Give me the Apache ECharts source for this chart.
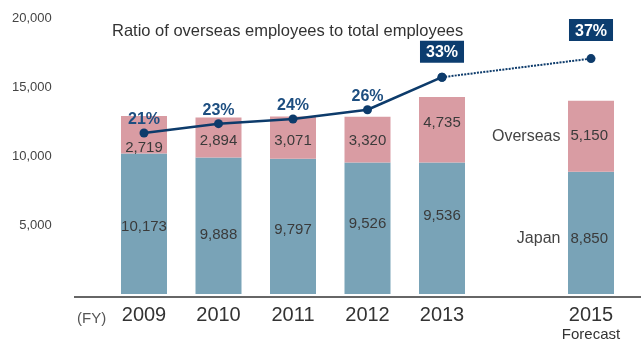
<!DOCTYPE html>
<html>
<head>
<meta charset="utf-8">
<script src="https://cdn.jsdelivr.net/npm/echarts@6/dist/echarts.min.js"></script>
<style>
  html, body { margin: 0; padding: 0; background: #fff; }
  #chart { width: 641px; height: 343px; }
</style>
</head>
<body>
<div id="chart"></div>
<script>
// Fiscal years (2014 left as an empty slot before the forecast year)
const years = ['2009', '2010', '2011', '2012', '2013', '', '2015'];
const japan = [10173, 9888, 9797, 9526, 9536, '-', 8850];
const overseas = [2719, 2894, 3071, 3320, 4735, '-', 5150];
// Overseas share of total employees (%)
const ratioActual = [21, 23, 24, 26, 33, '-', '-'];
const ratioForecast = ['-', '-', '-', '-', 33, '-', 37];
const yTicks = [0, 5000, 10000, 15000, 20000];

const FONT = '"Liberation Sans", Arial, sans-serif';
const BLUE = '#79a3b7';
const PINK = '#d99ca3';
const NAVY = '#0d3b6b';
const TEXT = '#3a3a3a';

// small per-bar nudges of the value labels
const japanOffset = [3, 9, 3, -4, -12, 0, 6];
const overseasOffset = [13, 3, 3, 1, -7, 0, 0];

const fmt = v => Number(v).toLocaleString('en-US');

function barData(values, offsets, name) {
  return values.map((v, i) => {
    if (v === '-') return '-';
    const item = { value: v, label: { offset: [0, offsets[i]] } };
    if (i === values.length - 1) {
      item.label = {
        position: 'insideRight',
        distance: 6,
        offset: [0, offsets[i]],
        formatter: '{n|' + name + '}' + fmt(v),
        rich: { n: { fontFamily: FONT, fontSize: 16, color: '#444', padding: [0, 10, 0, 0] } }
      };
    }
    return item;
  });
}

function ratioData(values, boxed) {
  return values.map((v, i) => {
    if (v === '-') return '-';
    if (boxed.indexOf(i) >= 0) {
      return {
        value: v,
        label: {
          show: true, color: '#fff', backgroundColor: '#0c3d6f',
          padding: [4, 6, 2, 6], distance: 10
        }
      };
    }
    return v;
  });
}

const chart = echarts.init(document.getElementById('chart'), null, { renderer: 'canvas' });

const forecastData = ratioData(ratioForecast, [6]).map((d, i) => i === 4 ? { value: 33, label: { show: false } } : d);
forecastData[6].label.distance = 13;

chart.setOption({
  animation: false,
  backgroundColor: '#fff',
  textStyle: { fontFamily: FONT },
  title: {
    text: 'Ratio of overseas employees to total employees',
    left: 107, top: 18,
    textStyle: { fontFamily: FONT, fontSize: 16.5, fontWeight: 'normal', color: '#333' }
  },
  grid: { left: 106.75, right: 12.75, top: 18, bottom: 46.5 },
  xAxis: {
    type: 'category',
    data: years,
    axisLine: { show: false },
    axisTick: { show: false },
    axisLabel: {
      interval: 0,
      margin: 11,
      fontFamily: FONT, fontSize: 20, color: '#333', lineHeight: 21,
      formatter: v => v === '2015' ? '2015\n{f|Forecast}' : v,
      rich: { f: { fontFamily: FONT, fontSize: 15, color: '#333', lineHeight: 17 } }
    }
  },
  yAxis: [
    {
      type: 'value', min: yTicks[0], max: yTicks[yTicks.length - 1], interval: 5000,
      splitLine: { show: false }, axisLine: { show: false }, axisTick: { show: false },
      axisLabel: {
        margin: 55, fontFamily: FONT, fontSize: 13, color: '#444',
        formatter: v => v === 0 ? '' : fmt(v)
      }
    },
    {
      type: 'value', min: -13.65, max: 45.74, show: false,
      splitLine: { show: false }
    }
  ],
  graphic: [
    {
      type: 'line', z: 10,
      shape: { x1: 74, y1: 297, x2: 641, y2: 297 },
      style: { stroke: '#333', lineWidth: 1.3 }
    },
    {
      type: 'text', left: 77, top: 311,
      style: { text: '(FY)', fontFamily: FONT, fontSize: 15, fill: '#555' }
    }
  ],
  series: [
    {
      name: 'Japan', type: 'bar', stack: 'total', barWidth: 46,
      itemStyle: { color: BLUE },
      label: {
        show: true, position: 'inside', fontFamily: FONT, fontSize: 15, color: TEXT,
        formatter: p => fmt(p.value)
      },
      data: barData(japan, japanOffset, 'Japan')
    },
    {
      name: 'Overseas', type: 'bar', stack: 'total', barWidth: 46,
      itemStyle: { color: PINK },
      label: {
        show: true, position: 'inside', fontFamily: FONT, fontSize: 15, color: TEXT,
        formatter: p => fmt(p.value)
      },
      data: barData(overseas, overseasOffset, 'Overseas')
    },
    {
      name: 'Ratio forecast', type: 'line', yAxisIndex: 1, connectNulls: true,
      symbol: 'circle', symbolSize: 9, z: 4,
      lineStyle: { color: NAVY, width: 2, type: [2, 1.2] },
      itemStyle: { color: NAVY },
      label: {
        show: true, position: 'top', fontFamily: FONT, fontSize: 16, fontWeight: 'bold',
        formatter: p => p.value + '%'
      },
      data: forecastData
    },
    {
      name: 'Ratio', type: 'line', yAxisIndex: 1,
      symbol: 'circle', symbolSize: 9, z: 5,
      lineStyle: { color: NAVY, width: 2.5 },
      itemStyle: { color: NAVY },
      label: {
        show: true, position: 'top', distance: 1, fontFamily: FONT, fontSize: 16, fontWeight: 'bold',
        color: '#1d4e80', formatter: p => p.value + '%'
      },
      data: ratioData(ratioActual, [4])
    }
  ]
});
</script>
</body>
</html>
